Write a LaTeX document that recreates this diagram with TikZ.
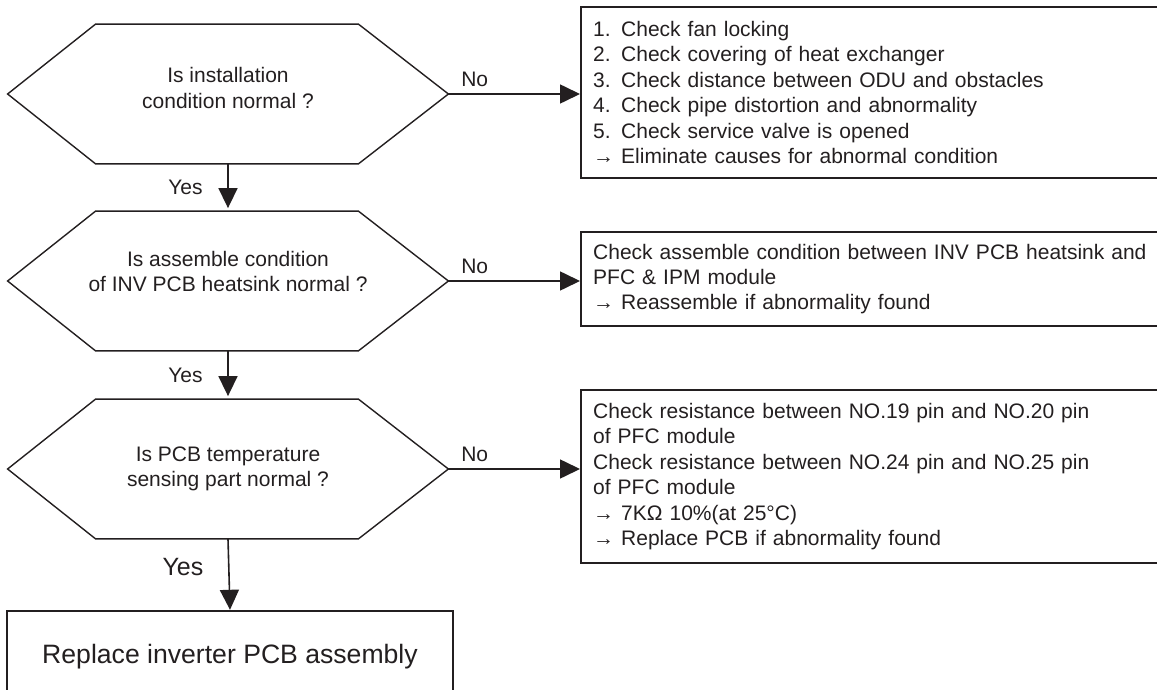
\documentclass[tikz,border=0pt]{standalone}
\usepackage{fontspec}
\setmainfont{Liberation Sans}
\usetikzlibrary{arrows.meta,positioning,calc}
\definecolor{ink}{RGB}{35,31,32}

\begin{document}
\begin{tikzpicture}[
  x=0.5pt, y=-0.5pt,
  color=ink,
  font=\fontsize{10.5}{12.7}\selectfont,
  >={Triangle[length=10pt,width=9.5pt]},
  question/.style={minimum width=220pt,minimum height=69.5pt,align=center,inner sep=0pt},
  hexline/.style={line width=0.7pt,line join=miter},
  action/.style={draw,line width=1.2pt,anchor=west,text width=288pt,align=left,inner sep=6pt},
  result/.style={draw,line width=1.2pt,minimum width=223pt,minimum height=46pt,font=\fontsize{13.3}{16}\selectfont},
  flow/.style={->,line width=0.8pt},
  yesflow/.style={->,line width=0.8pt,shorten >=1.5pt}
]
\useasboundingbox (0,0) rectangle (1157,690);

% ===== Checks =====
\node[question,text depth=6pt] (q1) at (228,94) {Is installation\\condition normal ?};
\node[question,text depth=9.5pt] (q2) at (228,281) {Is assemble condition\\of INV PCB heatsink normal ?};
\node[question] (q3) at (228,469) {Is PCB temperature\\sensing part normal ?};

\foreach \q in {q1,q2,q3}
  \draw[hexline] (\q.west) -- ([xshift=44pt]\q.north west) -- ([xshift=-45pt]\q.north east)
    -- (\q.east) -- ([xshift=-45pt]\q.south east) -- ([xshift=44pt]\q.south west) -- cycle;

% ===== Actions =====
\node[action,minimum height=85.5pt] (b1) at (580,92.5) {
1. Check fan locking\\
2. Check covering of heat exchanger\\
3. Check distance between ODU and obstacles\\
4. Check pipe distortion and abnormality\\
5. Check service valve is opened\\
→ Eliminate causes for abnormal condition};
\node[action,minimum height=47pt] (b2) at (580,279) {
Check assemble condition between INV PCB heatsink and\\
PFC \& IPM module\\
→ Reassemble if abnormality found};
\node[action,minimum height=86.5pt] (b3) at (580,476.5) {
Check resistance between NO.19 pin and NO.20 pin\\
of PFC module\\
Check resistance between NO.24 pin and NO.25 pin\\
of PFC module\\
→ 7KΩ 10\%(at 25°C)\\
→ Replace PCB if abnormality found};

\node[result] (done) at (230,657) {Replace inverter PCB assembly};

% ===== No branches =====
\draw[flow] (q1.east) -- node[pos=0.2,above]{No} (q1.east -| b1.west);
\draw[flow] (q2.east) -- node[pos=0.2,above]{No} (q2.east -| b2.west);
\draw[flow] (q3.east) -- node[pos=0.2,above]{No} (q3.east -| b3.west);

% ===== Yes branches =====
\draw[yesflow] (q1.south) -- node[midway,left=9pt]{Yes} (q2.north);
\draw[yesflow] (q2.south) -- node[midway,left=9pt]{Yes} (q3.north);
\draw[flow] (q3.south) -- node[pos=0.4,left=9pt,font=\fontsize{12.5}{15}\selectfont]{Yes} (done.north);

\end{tikzpicture}
\end{document}
